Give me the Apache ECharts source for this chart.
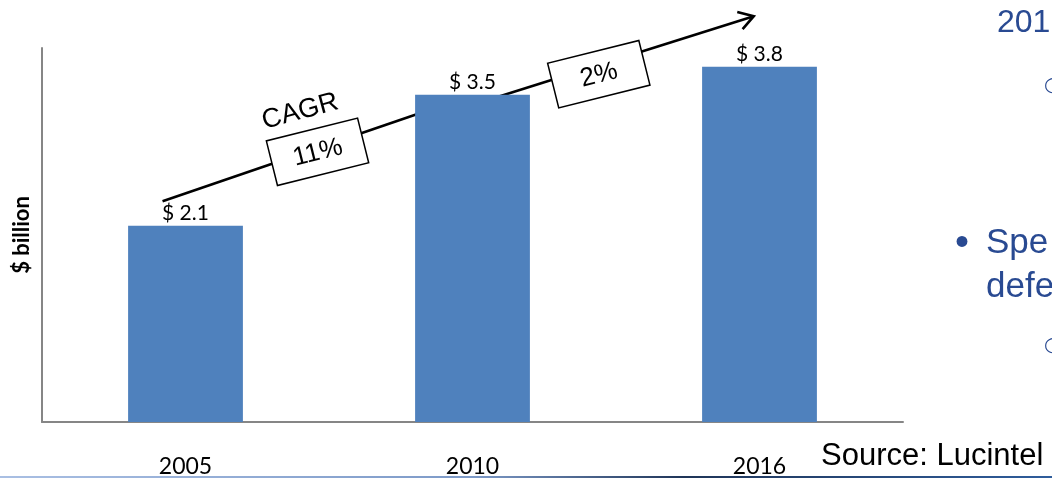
<!DOCTYPE html>
<html>
<head>
<meta charset="utf-8">
<script src="https://cdn.jsdelivr.net/npm/echarts@6/dist/echarts.min.js"></script>
<style>
  html, body { margin: 0; padding: 0; background: #fff; }
  #chart { width: 1052px; height: 478px; }
</style>
</head>
<body>
<div id="chart"></div>
<script>
// data
var years = ["2005", "2010", "2016"];
var revenue = [2.1, 3.5, 3.8];
var yMax = 4;

// CAGR arrows, in (category index, value) space
var cagrLabels = ["11%", "2%"];
var cagrStart = [[-0.08, 2.36], [1.04, 3.43]];
var cagrEnd = [[0.91, 3.40], [1.98, 4.34]];
var cagrBox = [[0.46, 2.89], [1.44, 3.72]];
var cagrTitle = "CAGR";
var cagrTitlePos = [0.40, 3.32];

var blue = "#294a92";

var chart = echarts.init(document.getElementById("chart"));

chart.setOption({
  animation: false,
  grid: { left: 42, right: 149, top: 48, bottom: 56, outerBoundsMode: "none" },
  xAxis: {
    type: "category",
    data: years,
    axisLine: { lineStyle: { color: "#868686", width: 2 } },
    axisTick: { show: false },
    axisLabel: { color: "#000", fontFamily: "Lato", fontSize: 23, margin: 33 }
  },
  yAxis: {
    type: "value",
    min: 0,
    max: yMax,
    splitLine: { show: false },
    axisLine: { show: true, lineStyle: { color: "#868686", width: 2 } },
    axisTick: { show: false },
    axisLabel: { show: false },
    name: "$ billion",
    nameLocation: "middle",
    nameRotate: 90,
    nameGap: 9,
    nameTextStyle: { color: "#000", fontFamily: "Lato", fontWeight: "bold", fontSize: 22 }
  },
  series: [
    {
      type: "bar",
      data: revenue,
      barWidth: "40%",
      itemStyle: { color: "#4f81bd" },
      label: {
        show: true,
        position: "top",
        distance: 2,
        formatter: "$ {c}",
        color: "#000",
        fontFamily: "Lato",
        fontSize: 21
      }
    }
  ]
});

// map (category index, value) to pixels
function px(p) {
  var a = chart.convertToPixel({ xAxisIndex: 0 }, 0);
  var b = chart.convertToPixel({ xAxisIndex: 0 }, 1);
  return [a + p[0] * (b - a), chart.convertToPixel({ yAxisIndex: 0 }, p[1])];
}

var tilt = 14 * Math.PI / 180;
var graphics = [];

for (var k = 0; k < cagrLabels.length; k++) {
  var s = px(cagrStart[k]);
  var e = px(cagrEnd[k]);
  var c = px(cagrBox[k]);
  var ang = Math.atan2(e[1] - s[1], e[0] - s[0]);
  var arm = 17, spread = 0.55;
  graphics.push({
    type: "line",
    shape: { x1: s[0], y1: s[1], x2: e[0], y2: e[1] },
    style: { stroke: "#000", lineWidth: 2.6 }
  });
  graphics.push({
    type: "polyline",
    shape: {
      points: [
        [e[0] - arm * Math.cos(ang - spread), e[1] - arm * Math.sin(ang - spread)],
        [e[0], e[1]],
        [e[0] - arm * Math.cos(ang + spread), e[1] - arm * Math.sin(ang + spread)]
      ]
    },
    style: { stroke: "#000", fill: null, lineWidth: 2.6 }
  });
  graphics.push({
    type: "group",
    x: c[0],
    y: c[1],
    rotation: tilt,
    children: [
      {
        type: "rect",
        shape: { x: -47, y: -23, width: 94, height: 46 },
        style: { fill: "#fff", stroke: "#000", lineWidth: 1.5 }
      },
      {
        type: "text",
        style: {
          text: cagrLabels[k], x: 0, y: 1, align: "center", verticalAlign: "middle",
          font: "26px 'Liberation Sans', Arial", fill: "#000"
        }
      }
    ]
  });
}

var t = px(cagrTitlePos);
graphics.push({
  type: "text",
  x: t[0],
  y: t[1],
  rotation: tilt + 0.02,
  style: {
    text: cagrTitle, align: "center", verticalAlign: "middle",
    font: "27px 'Liberation Sans', Arial", fill: "#000"
  }
});

// slide text around the chart
var sideFont = "'Liberation Sans', Arial";
graphics.push(
  { type: "text", x: 997, y: 7, style: { text: "201", font: "32px " + sideFont, fill: blue } },
  { type: "text", x: 1044, y: 76, style: { text: "○", font: "20px 'DejaVu Sans'", fill: blue } },
  { type: "text", x: 955, y: 224, style: { text: "•", font: "40px " + sideFont, fill: blue } },
  { type: "text", x: 986, y: 226, style: { text: "Spe", font: "35px " + sideFont, fill: blue } },
  { type: "text", x: 986, y: 270, style: { text: "defe", font: "35px " + sideFont, fill: blue } },
  { type: "text", x: 1044, y: 336, style: { text: "○", font: "20px 'DejaVu Sans'", fill: blue } },
  { type: "text", x: 821, y: 441, style: { text: "Source: Lucintel", font: "31px " + sideFont, fill: "#000" } },
  {
    type: "rect",
    shape: { x: 0, y: 476, width: 1052, height: 2 },
    style: {
      fill: new echarts.graphic.LinearGradient(0, 0, 1, 0, [
        { offset: 0, color: "#a9bfe3" },
        { offset: 0.45, color: "#7d9ac8" },
        { offset: 0.65, color: "#1f3558" },
        { offset: 1, color: "#2f5d9c" }
      ])
    }
  }
);

chart.setOption({ graphic: graphics });

window.addEventListener("resize", function () {
  chart.resize();
});
</script>
</body>
</html>
